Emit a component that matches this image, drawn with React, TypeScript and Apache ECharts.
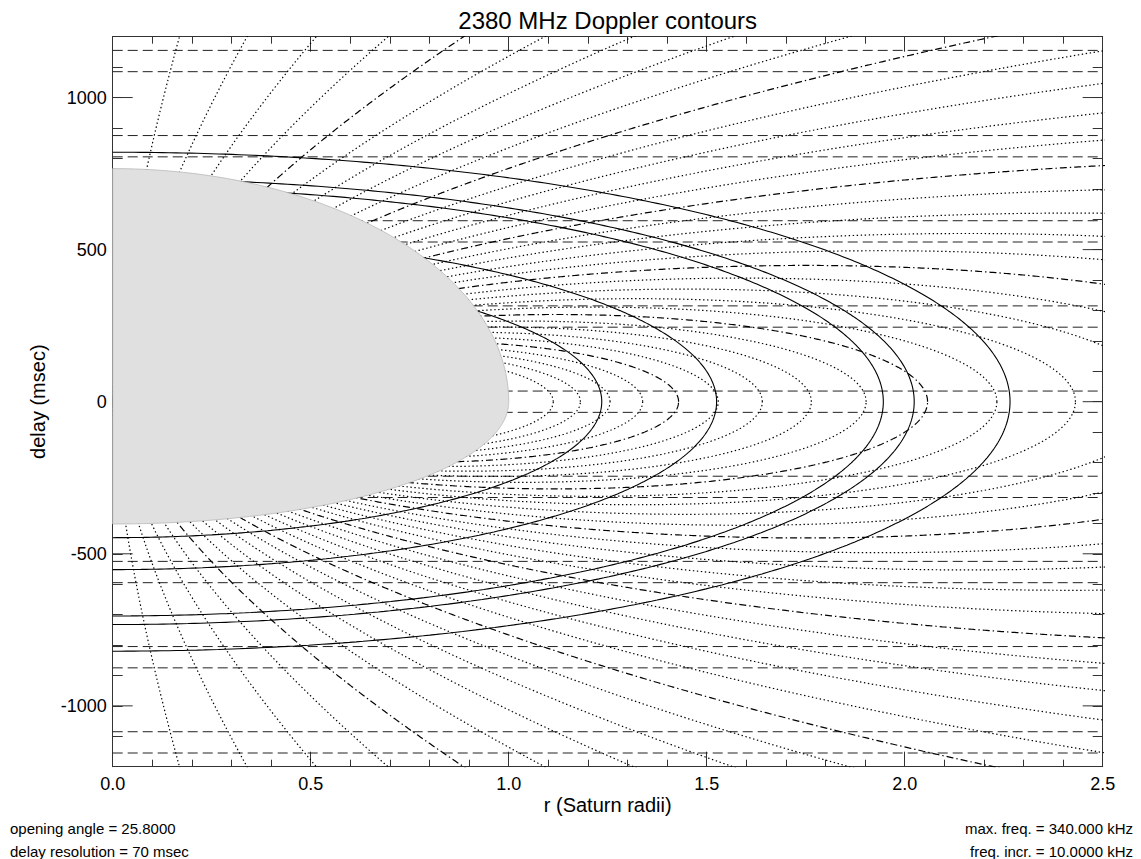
import React, { useEffect, useRef } from 'react';
import * as echarts from 'echarts';

// ---- observation parameters (from the figure annotations) ----
const titleText = '2380 MHz Doppler contours';
const radarFreqMHz = 2380;
const openingAngleDeg = 25.8;
const delayResolutionMs = 70;

// ---- axis ticks ----
const xMajorTicks = [0, 0.5, 1.0, 1.5, 2.0, 2.5];
const yMajorTicks = [-1000, -500, 0, 500, 1000];

// ---- ring edge radii (Saturn radii): C inner, B inner, B outer, A inner, A outer ----
const ringEdgeRadii = [1.235, 1.525, 1.946, 2.024, 2.266];

// ---- Doppler contour frequencies (kHz) ----
const dopplerFreqsKHz = [
  10, 20, 30, 40, 50, 60, 70, 80, 90, 100, 110, 120, 130, 140, 150, 160, 170,
  180, 190, 200, 210, 220, 230, 240, 250, 260, 270, 280, 290, 300, 310, 320, 330, 340,
];
const dashDotFreqsKHz = [50, 100, 150, 200, 250, 300];

// ---- delay-bin boundaries (msec) ----
const delayBinLines = [
  -1155, -1085, -875, -805, -595, -525, -315, -245, -35, 35, 245, 315, 525, 595, 805, 875, 1085, 1155,
];

// ---- Saturn constants ----
const saturnEqRadiusKm = 60268;
const saturnPolarRadiusKm = 54364;
const saturnGMkm3s2 = 3.7931e7;
const lightSpeedKmS = 299792.458;

const FONT = 'Liberation Sans, Arial, Helvetica, sans-serif';
const AXIS_COLOR = '#333';

function buildOption() {
  const B = (openingAngleDeg * Math.PI) / 180;
  const delayPerRadius = ((2 * saturnEqRadiusKm) / lightSpeedKmS) * 1000 * Math.cos(B); // ms
  const lambdaM = (lightSpeedKmS * 1000) / (radarFreqMHz * 1e6);
  const v1 = Math.sqrt(saturnGMkm3s2 / saturnEqRadiusKm) * 1000; // m/s
  const K = ((2 * v1 * Math.cos(B)) / lambdaM) / 1000; // kHz

  // planet occultation / echo extent
  const flat = saturnPolarRadiusKm / saturnEqRadiusKm;
  const bProj = Math.sqrt(Math.sin(B) ** 2 + flat * flat * Math.cos(B) ** 2);
  const topSemi = (delayPerRadius * bProj) / Math.sin(B);
  const botSemi = ((2 * saturnEqRadiusKm) / lightSpeedKmS) * 1000;

  const planetOutline: number[][] = [];
  const NP = 200;
  for (let i = 0; i <= NP; i++) {
    const t = (i / NP) * (Math.PI / 2);
    planetOutline.push([Math.sin(t), topSemi * Math.cos(t)]);
  }
  for (let i = NP; i >= 0; i--) {
    const t = (i / NP) * (Math.PI / 2);
    planetOutline.push([Math.sin(t), -botSemi * Math.cos(t)]);
  }

  const series: any[] = [];

  // dashed delay-bin lines
  delayBinLines.forEach((y) => {
    series.push({
      type: 'line',
      data: [
        [0, y],
        [2.5, y],
      ],
      symbol: 'none',
      silent: true,
      z: 2,
      lineStyle: { color: '#222', width: 1, type: [10, 5] },
    });
  });

  // Doppler contours
  dopplerFreqsKHz.forEach((f) => {
    const q = f / K;
    const aMax = 1 / (q * q);
    const xLim = 2.7;
    const aX = Math.pow(xLim / q, 2 / 3);
    const closed = aMax <= aX;
    const aEnd = Math.min(aMax, aX);
    const N = 700;
    const upper: number[][] = [];
    for (let i = 0; i <= N; i++) {
      const t = i / N;
      const a = closed ? (aEnd * (1 - Math.cos(Math.PI * t))) / 2 : aEnd * t;
      const x = q * Math.pow(a, 1.5);
      const y = delayPerRadius * Math.sqrt(Math.max(0, a * a - x * x));
      upper.push([x, y]);
    }
    const pts = upper
      .slice()
      .reverse()
      .concat(upper.slice(1).map((p) => [p[0], -p[1]]));
    const dd = dashDotFreqsKHz.includes(f);
    series.push({
      type: 'line',
      data: pts,
      symbol: 'none',
      silent: true,
      clip: true,
      z: 2,
      lineStyle: { color: '#000', width: 1.2, type: dd ? [7, 3, 1.4, 3] : [1.4, 2.6] },
    });
  });

  // ring edges
  ringEdgeRadii.forEach((a) => {
    const pts: number[][] = [];
    const N = 400;
    for (let i = 0; i <= N; i++) {
      const th = (i / N) * Math.PI;
      pts.push([a * Math.sin(th), delayPerRadius * a * Math.cos(th)]);
    }
    series.push({
      type: 'line',
      data: pts,
      symbol: 'none',
      silent: true,
      clip: true,
      z: 3,
      lineStyle: { color: '#000', width: 1.1, type: 'solid' },
    });
  });

  // major y ticks (left and right)
  series.push({
    type: 'custom',
    data: yMajorTicks.map((v) => [0, v]),
    silent: true,
    z: 1,
    renderItem: (params: any, api: any) => {
      const v = api.value(1);
      const l = api.coord([0, v]);
      const r = api.coord([2.5, v]);
      return {
        type: 'group',
        children: [
          { type: 'line', shape: { x1: l[0], y1: l[1], x2: l[0] + 20, y2: l[1] }, style: { stroke: AXIS_COLOR, lineWidth: 1 } },
          { type: 'line', shape: { x1: r[0] - 20, y1: r[1], x2: r[0], y2: r[1] }, style: { stroke: AXIS_COLOR, lineWidth: 1 } },
        ],
      };
    },
  });

  // planet
  series.push({
    type: 'custom',
    data: [[0, 0]],
    silent: true,
    z: 6,
    renderItem: (params: any, api: any) => ({
      type: 'polygon',
      shape: { points: planetOutline.map((p) => api.coord(p)) },
      style: { fill: '#e0e0e0', stroke: '#b8b8b8', lineWidth: 0.8 },
    }),
  });

  const axisLine = { show: true, onZero: false, lineStyle: { color: AXIS_COLOR, width: 1 } };
  const noLine = { show: false, onZero: false };

  return {
    animation: false,
    backgroundColor: '#fff',
    grid: { left: 112.7, top: 36.7, width: 990, height: 730 },
    xAxis: [
      {
        type: 'value', position: 'bottom', min: 0, max: 2.5, interval: 0.5,
        axisLine, axisTick: { show: true, inside: true, length: 15, lineStyle: { color: AXIS_COLOR } },
        axisLabel: {
          formatter: (v: number) => (xMajorTicks.some((t) => Math.abs(t - v) < 1e-9) ? v.toFixed(1) : ''),
          fontSize: 18, color: '#000', margin: 8, fontFamily: FONT,
        },
        splitLine: { show: false },
      },
      {
        type: 'value', position: 'bottom', min: 0, max: 2.5, interval: 0.1,
        axisLine: noLine, axisTick: { show: true, inside: true, length: 7, lineStyle: { color: AXIS_COLOR } },
        axisLabel: { show: false }, splitLine: { show: false },
      },
      {
        type: 'value', position: 'top', min: 0, max: 2.5, interval: 0.5,
        axisLine, axisTick: { show: true, inside: true, length: 15, lineStyle: { color: AXIS_COLOR } },
        axisLabel: { show: false }, splitLine: { show: false },
      },
      {
        type: 'value', position: 'top', min: 0, max: 2.5, interval: 0.1,
        axisLine: noLine, axisTick: { show: true, inside: true, length: 7, lineStyle: { color: AXIS_COLOR } },
        axisLabel: { show: false }, splitLine: { show: false },
      },
    ],
    yAxis: [
      {
        type: 'value', position: 'left', min: -1200, max: 1200, interval: 100,
        axisLine, axisTick: { show: true, inside: true, length: 10, lineStyle: { color: AXIS_COLOR } },
        axisLabel: {
          formatter: (v: number) => (yMajorTicks.includes(v) ? String(v) : ''),
          fontSize: 18, color: '#000', margin: 6, fontFamily: FONT,
        },
        splitLine: { show: false },
      },
      {
        type: 'value', position: 'right', min: -1200, max: 1200, interval: 100,
        axisLine, axisTick: { show: true, inside: true, length: 10, lineStyle: { color: AXIS_COLOR } },
        axisLabel: { show: false }, splitLine: { show: false },
      },
    ],
    graphic: [
      { type: 'text', style: { text: titleText, x: 607.7, y: 20, align: 'center', verticalAlign: 'middle', font: `24px ${FONT}`, fill: '#000' } },
      { type: 'text', style: { text: 'r (Saturn radii)', x: 607.7, y: 805, align: 'center', verticalAlign: 'middle', font: `20px ${FONT}`, fill: '#000' } },
      { type: 'text', x: 38, y: 401.7, rotation: Math.PI / 2, style: { text: 'delay (msec)', x: 0, y: 0, align: 'center', verticalAlign: 'middle', font: `20px ${FONT}`, fill: '#000' } },
      { type: 'text', style: { text: `opening angle = ${openingAngleDeg.toFixed(4)}`, x: 10, y: 828, align: 'left', verticalAlign: 'middle', font: `15px ${FONT}`, fill: '#000' } },
      { type: 'text', style: { text: `delay resolution = ${delayResolutionMs} msec`, x: 10, y: 851, align: 'left', verticalAlign: 'middle', font: `15px ${FONT}`, fill: '#000' } },
      { type: 'text', style: { text: `max. freq. = ${dopplerFreqsKHz[dopplerFreqsKHz.length - 1].toFixed(3)} kHz`, x: 1133, y: 828, align: 'right', verticalAlign: 'middle', font: `15px ${FONT}`, fill: '#000' } },
      { type: 'text', style: { text: `freq. incr. = ${(dopplerFreqsKHz[1] - dopplerFreqsKHz[0]).toFixed(4)} kHz`, x: 1133, y: 851, align: 'right', verticalAlign: 'middle', font: `15px ${FONT}`, fill: '#000' } },
    ],
    series,
  };
}

export default function App() {
  const ref = useRef<HTMLDivElement>(null);
  useEffect(() => {
    const chart = echarts.init(ref.current as HTMLDivElement, null, { renderer: 'svg' });
    chart.setOption(buildOption() as any);
    return () => chart.dispose();
  }, []);
  return (
    <div
      ref={ref}
      style={{ position: 'fixed', left: 0, top: 0, width: 1141, height: 859, background: '#fff' }}
    />
  );
}
